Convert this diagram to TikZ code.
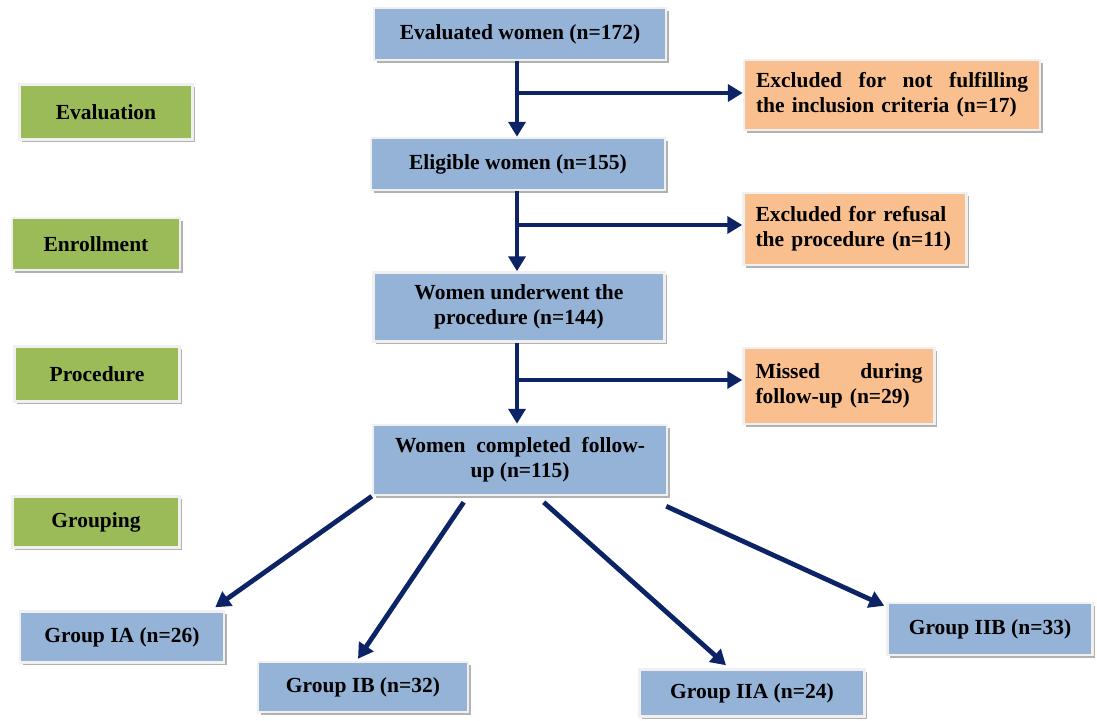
\documentclass[tikz,border=0pt]{standalone}
\usepackage{fontspec}
\setmainfont{Liberation Serif}
\usetikzlibrary{shapes,arrows.meta,positioning,shadows,calc}
\definecolor{boxblue}{RGB}{149,179,215}
\definecolor{boxorange}{RGB}{250,191,143}
\definecolor{boxgreen}{RGB}{155,187,89}
\definecolor{arrownavy}{RGB}{12,36,102}
\tikzset{
  flowbox/.style={draw=gray!12, line width=2.5pt, inner sep=3pt,
    font=\fontsize{21.5}{25}\selectfont\bfseries, align=center,
    drop shadow={shadow xshift=2.5pt, shadow yshift=-2.5pt, fill=gray!60, opacity=1}},
  bluebox/.style={flowbox, fill=boxblue},
  orangebox/.style={flowbox, fill=boxorange, align=left, inner xsep=12pt},
  greenbox/.style={flowbox, fill=boxgreen},
  flowarrow/.style={draw=arrownavy, line width=4.8pt, -{Triangle[width=17pt,length=15pt]}}
}
\begin{document}
\begin{tikzpicture}[x=1pt, y=-1pt]
  \useasboundingbox (0,0) rectangle (1097,720);
  % stage labels
  \node[greenbox, minimum width=173pt, minimum height=55pt] (evaluation) at (106,112) {Evaluation};
  \node[greenbox, minimum width=168pt, minimum height=52pt] (enrollment) at (96,244) {Enrollment};
  \node[greenbox, minimum width=165pt, minimum height=55pt] (procedure) at (97,374) {Procedure};
  \node[greenbox, minimum width=167pt, minimum height=51pt] (grouping) at (96,522) {Grouping};
  % main column
  \node[bluebox, minimum width=292pt, minimum height=52pt] (evaluated) at (520,34) {Evaluated women (n=172)};
  \node[bluebox, minimum width=294pt, minimum height=52pt] (eligible) at (518,164) {Eligible women (n=155)};
  \node[bluebox, minimum width=291pt, minimum height=69pt] (underwent) at (519,307) {Women underwent the\\procedure (n=144)};
  \node[bluebox, minimum width=294pt, minimum height=70pt] (completed) at (520,460) {\makebox[250pt][s]{Women completed follow-}\\up (n=115)};
  % exclusions
  \node[orangebox, text width=272pt, minimum height=70pt] (excluded1) at (892,95) {Excluded\hfill for\hfill not\hfill fulfilling\\the inclusion criteria (n=17)};
  \node[orangebox, text width=199pt, minimum height=72pt] (excluded2) at (855,229) {Excluded for refusal\\the procedure (n=11)};
  \node[orangebox, text width=167pt, minimum height=76pt] (missed) at (839,386) {Missed\hfill during\\follow-up (n=29)};
  % groups
  \node[bluebox, minimum width=204pt, minimum height=51pt] (groupIA) at (122,637) {Group IA (n=26)};
  \node[bluebox, minimum width=210pt, minimum height=50pt] (groupIB) at (363,687) {Group IB (n=32)};
  \node[bluebox, minimum width=225pt, minimum height=47pt] (groupIIA) at (752,693) {Group IIA (n=24)};
  \node[bluebox, minimum width=205pt, minimum height=52pt] (groupIIB) at (990,629) {Group IIB (n=33)};
  % branch points
  \coordinate (branch1) at (517,93);
  \coordinate (branch2) at (517,225);
  \coordinate (branch3) at (517,380);
  % connectors
  \draw[flowarrow] (evaluated.south -| branch1) -- (eligible.north -| branch1);
  \draw[flowarrow] (branch1) -- (excluded1.west |- branch1);
  \draw[flowarrow] (eligible.south -| branch2) -- (underwent.north -| branch2);
  \draw[flowarrow] (branch2) -- (excluded2.west |- branch2);
  \draw[flowarrow] (underwent.south -| branch3) -- (completed.north -| branch3);
  \draw[flowarrow] (branch3) -- (missed.west |- branch3);
  \draw[flowarrow] (completed.south west) -- ($(groupIA.north east)+(-10,-3)$);
  \draw[flowarrow] ($(completed.south west)!0.31!(completed.south east)+(0,6)$) -- ($(groupIB.north)+(-5,-2)$);
  \draw[flowarrow] ($(completed.south west)!0.58!(completed.south east)+(0,6)$) -- ($(groupIIA.north)+(-26,-3)$);
  \draw[flowarrow] ($(completed.south east)+(-2,10)$) -- ($(groupIIB.north west)+(-2,4)$);
\end{tikzpicture}
\end{document}
